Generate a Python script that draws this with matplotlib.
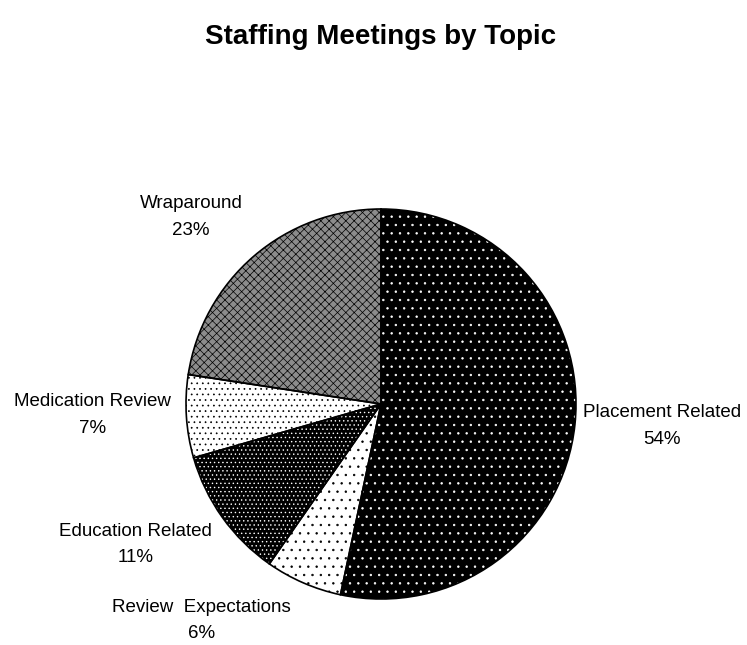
import matplotlib.pyplot as plt
import numpy as np

plt.rcParams['font.family'] = ['Liberation Sans', 'DejaVu Sans']
plt.rcParams['hatch.linewidth'] = 0.5

# Shares (clockwise from 12 o'clock)
topics = ['Placement Related', 'Review  Expectations', 'Education Related',
          'Medication Review', 'Wraparound']
shares = [53.6, 6.4, 10.9, 6.9, 22.7]
pct_labels = ['54%', '6%', '11%', '7%', '23%']

faces = ['black', 'white', 'black', 'white', '#8c8c8c']
dots = ['white', 'black', 'white', 'black', 'black']
hatches = ['..', '..', '....', '...', 'xxxx']

# label block centres, in pie-radius units
label_xy = [(1.44, -0.113), (-0.92, -1.11), (-1.26, -0.72),
            (-1.48, -0.056), (-0.975, 0.959)]

fig = plt.figure(figsize=(7.47, 6.45), dpi=100)
ax = fig.add_axes([186 / 747, 46 / 645, 390 / 747, 390 / 645])

wedges, _ = ax.pie(shares, startangle=90, counterclock=False, radius=1,
                   colors=faces, wedgeprops=dict(linewidth=0))
for w, h, c in zip(wedges, hatches, dots):
    w.set_hatch(h)
    w.set_edgecolor(c)

# outlines on top
ax.pie(shares, startangle=90, counterclock=False, radius=1,
       wedgeprops=dict(fill=False, edgecolor='black', linewidth=1.2))

for name, pct, (x, y) in zip(topics, pct_labels, label_xy):
    ax.text(x, y, name + '\n' + pct, ha='center', va='center',
            fontsize=13.5, linespacing=1.75)

ax.set_xlim(-1, 1)
ax.set_ylim(-1, 1)
ax.set_aspect('equal')
ax.axis('off')

fig.text(381 / 747, 1 - 37 / 645, 'Staffing Meetings by Topic',
         ha='center', va='center', fontsize=20, fontweight='bold')

fig.savefig('out.png', dpi=100)
